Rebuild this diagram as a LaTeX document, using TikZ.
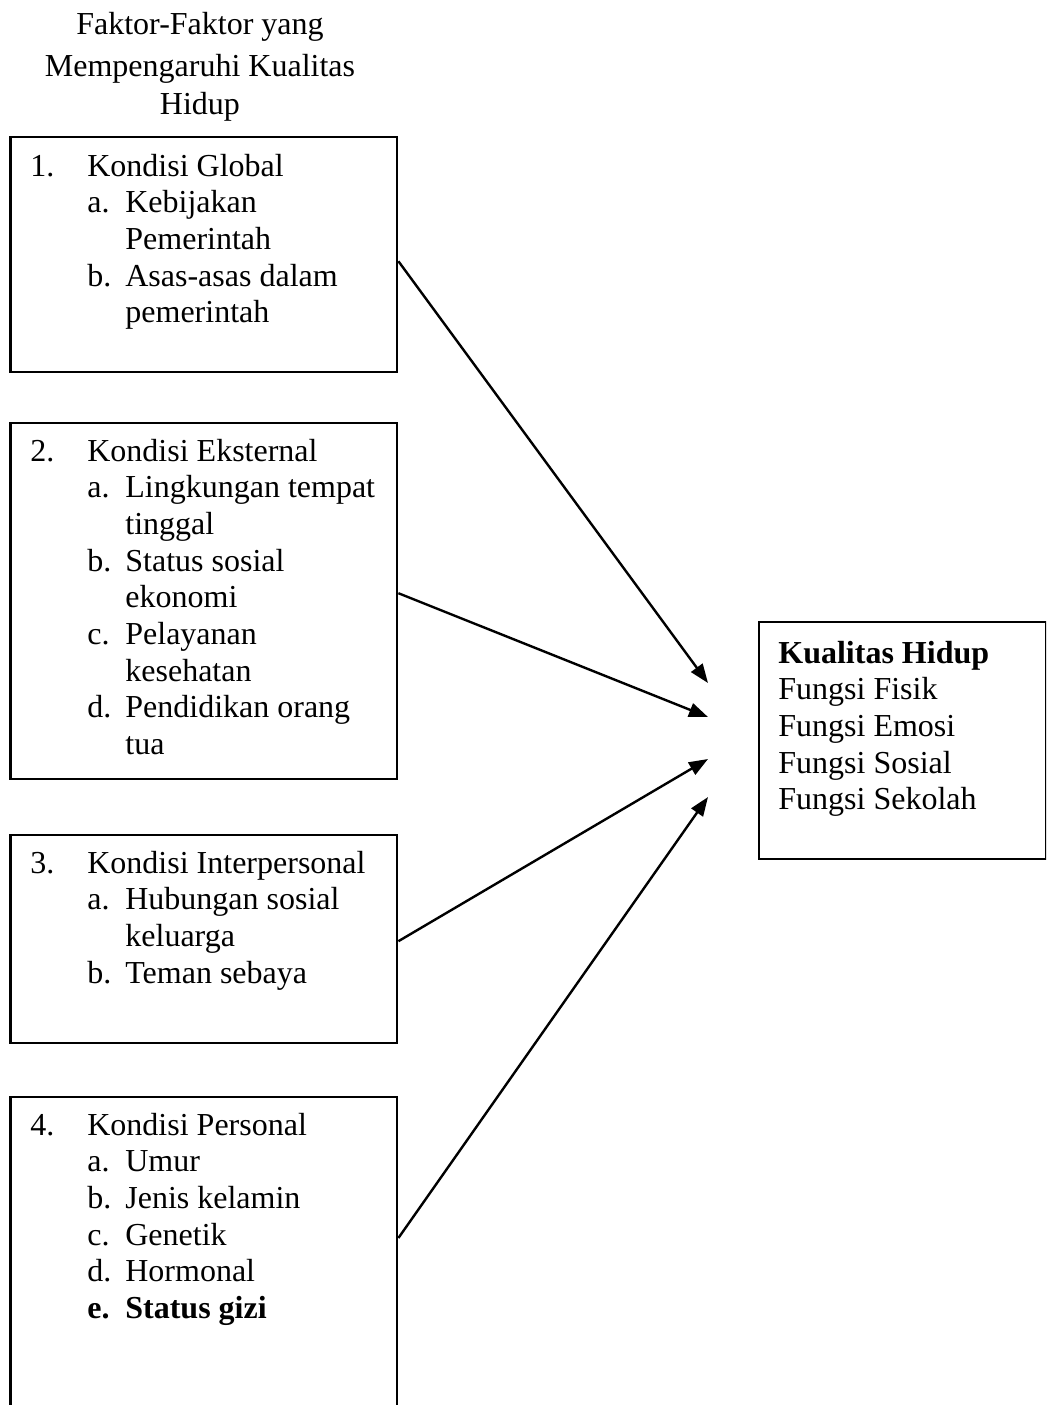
\documentclass[tikz,border=0pt]{standalone}
\usepackage{fontspec}
\setmainfont{Liberation Serif}
\usetikzlibrary{arrows.meta}
\newcommand{\txtsize}{\fontsize{16pt}{18.35pt}\selectfont}
\newcommand{\ttlsize}{\fontsize{16pt}{18.8pt}\selectfont}
\begin{document}
\begin{tikzpicture}[x=0.5pt,y=-0.5pt,
  box/.style={draw, line width=1.2pt, rectangle, anchor=north west, inner sep=0pt, minimum width=193.35pt},
  txt/.style={anchor=base west, inner sep=0pt, font=\txtsize},
  arr/.style={line width=1.2pt, -{Triangle[length=9.5pt,width=7pt]}}]
\useasboundingbox (0,0) rectangle (1046,1405);
\clip (0,0) rectangle (1046,1405);

% title
\node[anchor=base, inner sep=0pt, font=\ttlsize] (title) at (200,34)
  {\begin{tabular}[t]{@{}c@{}}Faktor-Faktor yang\\[2.4pt] Mempengaruhi Kualitas\\ Hidup\end{tabular}};

% boxes
\node[box, minimum height=117.5pt] (b1) at (9.3,136) {};
\node[box, minimum height=178pt] (b2) at (9.3,422) {};
\node[box, minimum height=104pt] (b3) at (9.3,834) {};
\node[box, minimum height=170pt] (b4) at (9.3,1096) {};
\node[box, minimum width=143.5pt, minimum height=118.5pt] (kh) at (758,621) {};

% texts
\node[txt] (t1) at (30,176) {\begin{tabular}[t]{@{}p{28.5pt}@{}p{19pt}@{}l@{}}
1. & \multicolumn{2}{@{}l@{}}{Kondisi Global}\\
 & a. & Kebijakan\\
 & & Pemerintah\\
 & b. & Asas-asas dalam\\
 & & pemerintah
\end{tabular}};

\node[txt] (t2) at (30,461) {\begin{tabular}[t]{@{}p{28.5pt}@{}p{19pt}@{}l@{}}
2. & \multicolumn{2}{@{}l@{}}{Kondisi Eksternal}\\
 & a. & Lingkungan tempat\\
 & & tinggal\\
 & b. & Status sosial\\
 & & ekonomi\\
 & c. & Pelayanan\\
 & & kesehatan\\
 & d. & Pendidikan orang\\
 & & tua
\end{tabular}};

\node[txt] (t3) at (30,873) {\begin{tabular}[t]{@{}p{28.5pt}@{}p{19pt}@{}l@{}}
3. & \multicolumn{2}{@{}l@{}}{Kondisi Interpersonal}\\
 & a. & Hubungan sosial\\
 & & keluarga\\
 & b. & Teman sebaya
\end{tabular}};

\node[txt] (t4) at (30,1135) {\begin{tabular}[t]{@{}p{28.5pt}@{}p{19pt}@{}l@{}}
4. & \multicolumn{2}{@{}l@{}}{Kondisi Personal}\\
 & a. & Umur\\
 & b. & Jenis kelamin\\
 & c. & Genetik\\
 & d. & Hormonal\\
 & \textbf{e.} & \textbf{Status gizi}
\end{tabular}};

\node[txt] (tk) at (778,663) {\begin{tabular}[t]{@{}l@{}}
\textbf{Kualitas Hidup}\\
Fungsi Fisik\\
Fungsi Emosi\\
Fungsi Sosial\\
Fungsi Sekolah
\end{tabular}};

% arrow tips (free ends)
\coordinate (e1) at (708,683);
\coordinate (e2) at (708,717);
\coordinate (e3) at (708,759);
\coordinate (e4) at (708,797);

\draw[arr] ([yshift=-3.25pt]b1.east) -- (e1);
\draw[arr] ([yshift=4pt]b2.east) -- (e2);
\draw[arr] ([yshift=-1pt]b3.east) -- (e3);
\draw[arr] ([yshift=-71pt]b4.north east) -- (e4);
\end{tikzpicture}
\end{document}
